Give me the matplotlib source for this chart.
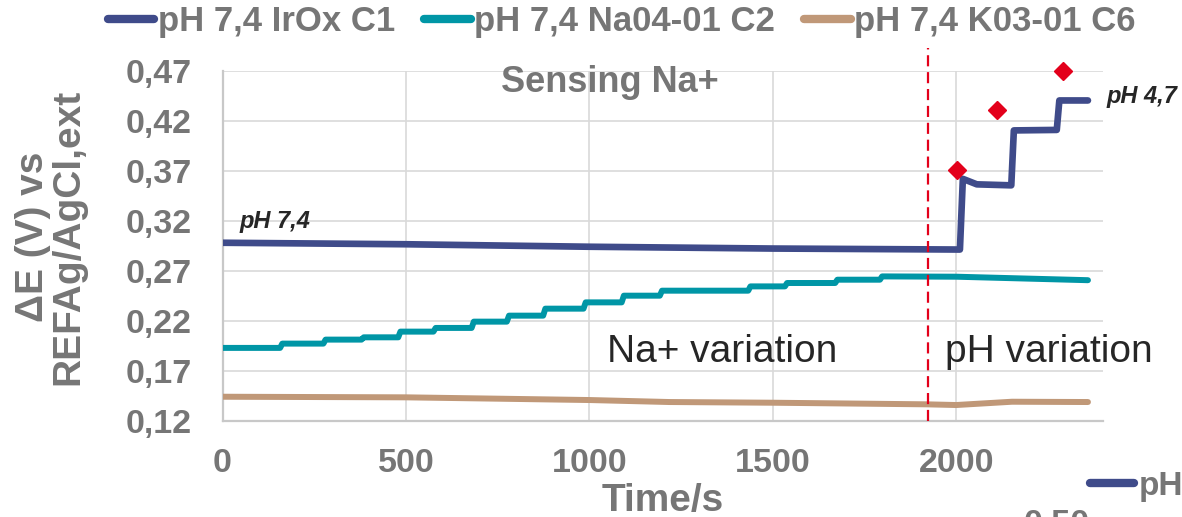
import matplotlib
matplotlib.use("Agg")
import matplotlib.pyplot as plt
from matplotlib.lines import Line2D

plt.rcParams['font.family'] = ['Liberation Sans', 'DejaVu Sans']

# ---------------- data ----------------
t_irox = [0, 500, 1000, 1500, 2010, 2018, 2056, 2150, 2157, 2274, 2281, 2359]
e_irox = [0.298, 0.2965, 0.294, 0.2922, 0.2912, 0.3620, 0.3565, 0.3555, 0.4105, 0.4110, 0.4405, 0.4405]

t_na = [0, 157, 163, 275, 281, 379, 385, 479, 485, 575, 581, 679, 685, 775, 781, 874, 880,
        984, 990, 1088, 1094, 1192, 1198, 1433, 1439, 1533, 1539, 1670, 1676, 1792, 1798,
        2000, 2359]
e_na = [0.1927, 0.1927, 0.1970, 0.1970, 0.2010, 0.2010, 0.2033, 0.2033, 0.2090, 0.2090,
        0.2127, 0.2127, 0.2190, 0.2190, 0.2250, 0.2250, 0.2320, 0.2320, 0.2383, 0.2383,
        0.2450, 0.2450, 0.2500, 0.2500, 0.2543, 0.2543, 0.2577, 0.2577, 0.2610, 0.2610,
        0.2643, 0.2640, 0.2605]

t_k = [0, 500, 1000, 1218, 1500, 1918, 2000, 2152, 2359]
e_k = [0.1438, 0.1432, 0.1405, 0.1385, 0.1378, 0.1362, 0.1355, 0.1388, 0.1385]

t_ph = [2001, 2110, 2292]
e_ph = [0.3705, 0.4305, 0.4705]

boundary_t = 1923          # Na+ / pH variation boundary
boundary_top = 0.493

series_labels = ['pH 7,4 IrOx C1', 'pH 7,4 Na04-01 C2', 'pH 7,4 K03-01 C6']
x_ticks = [0, 500, 1000, 1500, 2000]
x_tick_labels = ['0', '500', '1000', '1500', '2000']
y_ticks = [0.12, 0.17, 0.22, 0.27, 0.32, 0.37, 0.42, 0.47]
y_tick_labels = ['0,12', '0,17', '0,22', '0,27', '0,32', '0,37', '0,42', '0,47']

# ---------------- style ----------------
C_IROX = '#3F4B8A'
C_NA = '#0096A6'
C_K = '#C09878'
C_RED = '#E3001B'
GRAY = '#767676'
DARK = '#262626'
GRID = '#D9D9D9'

W, H = 1182, 517
fig = plt.figure(figsize=(W / 100, H / 100), dpi=100)
ax = fig.add_axes([222.5 / W, 1 - 420.5 / H, 880.5 / W, 349.5 / H])

l1, = ax.plot(t_irox, e_irox, color=C_IROX, lw=4.8, solid_capstyle='round',
              solid_joinstyle='round', label=series_labels[0], zorder=4)
l2, = ax.plot(t_na, e_na, color=C_NA, lw=4.3, solid_capstyle='round',
              solid_joinstyle='round', label=series_labels[1], zorder=3)
l3, = ax.plot(t_k, e_k, color=C_K, lw=4.3, solid_capstyle='round',
              solid_joinstyle='round', label=series_labels[2], zorder=3)
ax.plot(t_ph, e_ph, linestyle='none', marker='D', markersize=9.5, color=C_RED,
        clip_on=False, zorder=5)

ax.plot([boundary_t, boundary_t], [0.12, boundary_top], color=C_RED, lw=1.6,
        dashes=(5, 2.6), clip_on=False, zorder=6)

ax.set_xlim(0, 2400)
ax.set_ylim(0.12, 0.47)
ax.set_xticks(x_ticks)
ax.set_xticklabels(x_tick_labels)
ax.set_yticks(y_ticks)
ax.set_yticklabels(y_tick_labels)
ax.tick_params(axis='both', length=0, labelsize=24.5, labelcolor=GRAY)
ax.tick_params(axis='y', pad=22)
ax.tick_params(axis='x', pad=20)
for lab in ax.get_xticklabels() + ax.get_yticklabels():
    lab.set_fontweight('bold')

ax.grid(True, color=GRID, lw=1.2, zorder=0)
ax.set_axisbelow(True)
for s in ['top', 'right']:
    ax.spines[s].set_visible(False)
for s in ['left', 'bottom']:
    ax.spines[s].set_color('#C8C8C8')
    ax.spines[s].set_linewidth(1.6)

ax.set_xlabel('Time/s', fontsize=28, fontweight='bold', color=GRAY)
ax.xaxis.set_label_coords(0.50, -0.178)
ax.set_ylabel('ΔE (V) vs\nREFAg/AgCl,ext', fontsize=28, fontweight='bold',
              color=GRAY, linespacing=1.0)
ax.yaxis.label.set_va('center')
ax.yaxis.set_label_coords(-0.195, 0.525)

ax.text(1056, 0.4485, 'Sensing Na+', ha='center', va='baseline', fontsize=26,
        fontweight='bold', color=GRAY)
ax.text(1363, 0.1785, 'Na+ variation', ha='center', va='baseline', fontsize=28,
        color=DARK)
ax.text(2253, 0.1785, 'pH variation', ha='center', va='baseline', fontsize=28,
        color=DARK, clip_on=False)
ax.text(46, 0.3125, 'pH 7,4', ha='left', va='baseline', fontsize=17,
        fontweight='bold', fontstyle='italic', color=DARK)
ax.text(2409, 0.4375, 'pH 4,7', ha='left', va='baseline', fontsize=17,
        fontweight='bold', fontstyle='italic', color=DARK, clip_on=False)

leg = fig.legend(handles=[l1, l2, l3], loc='center', bbox_to_anchor=(0.526, 0.958),
                 ncol=3, frameon=False, fontsize=25, handlelength=1.33,
                 handletextpad=0.1, columnspacing=0.85, borderaxespad=0,
                 prop={'weight': 'bold', 'size': 25})
for txt in leg.get_texts():
    txt.set_color(GRAY)
for h in leg.legend_handles:
    h.set_linewidth(6)
    h.set_solid_capstyle('round')

# fragments of the neighbouring chart visible at the bottom right
fig.add_artist(Line2D([1090 / W, 1134 / W], [1 - 483 / H] * 2, color=C_IROX, lw=6,
                      solid_capstyle='round', transform=fig.transFigure))
fig.text(1139 / W, 1 - 495 / H, 'pH', ha='left', va='baseline', fontsize=24,
         fontweight='bold', color=GRAY)
fig.text(1024 / W, 1 - 533 / H, '0,50', ha='left', va='baseline', fontsize=24.5,
         fontweight='bold', color=GRAY)

fig.savefig('out.png', dpi=100)
